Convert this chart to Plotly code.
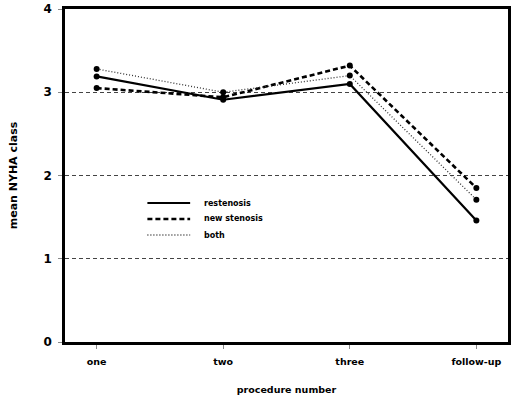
import plotly.graph_objects as go

# Mean NYHA class by procedure number for three patient groups
procedures = ["one", "two", "three", "follow-up"]
restenosis = [3.19, 2.91, 3.10, 1.46]
new_stenosis = [3.05, 2.94, 3.32, 1.85]
both = [3.28, 3.00, 3.20, 1.71]

series = [
    ("restenosis", restenosis, dict(color="black", width=2.2, dash="solid")),
    ("new stenosis", new_stenosis, dict(color="black", width=2.6, dash="5px,3px")),
    ("both", both, dict(color="#333333", width=1.3, dash="1px,2px")),
]

FONT = "DejaVu Sans, Liberation Sans, sans-serif"

fig = go.Figure()
for name, vals, line in series:
    fig.add_trace(go.Scatter(
        x=procedures, y=vals, mode="lines+markers", name=name,
        line=line, marker=dict(color="black", size=6),
        showlegend=False,
    ))

# Hand-placed key inside the plot area (paper coordinates)
key_rows = [0.4174, 0.3694, 0.3213]
for (name, _, line), ky in zip(series, key_rows):
    fig.add_shape(type="line", xref="paper", yref="paper",
                  x0=0.186, x1=0.2825, y0=ky, y1=ky, line=line)
    fig.add_annotation(xref="paper", yref="paper", x=0.309, y=ky,
                       text=name, showarrow=False, xanchor="left", yanchor="middle",
                       font=dict(size=8, weight="bold"))

fig.update_layout(
    width=513, height=399,
    margin=dict(l=65, r=2, t=9, b=57),
    paper_bgcolor="white", plot_bgcolor="white",
    font=dict(family=FONT, color="black", size=10, weight="bold"),
    showlegend=False,
    xaxis=dict(
        type="category", range=[-0.25, 3.25],
        showline=True, linewidth=2.5, linecolor="black", mirror=True,
        showgrid=False, ticks="outside", ticklen=4, tickcolor="#888",
        ticklabelstandoff=5,
        tickfont=dict(size=9.5, weight="bold"),
        title=dict(text="procedure number", font=dict(size=9.5, weight="bold"), standoff=21),
    ),
    yaxis=dict(
        range=[0, 4], tickvals=[0, 1, 2, 3, 4],
        showline=True, linewidth=2.5, linecolor="black", mirror=True,
        showgrid=True, gridcolor="#444", gridwidth=1, griddash="4px,3px",
        zeroline=False, ticks="outside", ticklen=4, tickcolor="#888",
        ticklabelstandoff=4,
        tickfont=dict(size=12, weight="bold"),
        title=dict(text="mean NYHA class", font=dict(size=11, weight="bold"), standoff=24),
    ),
)

fig.write_html("out.html")
